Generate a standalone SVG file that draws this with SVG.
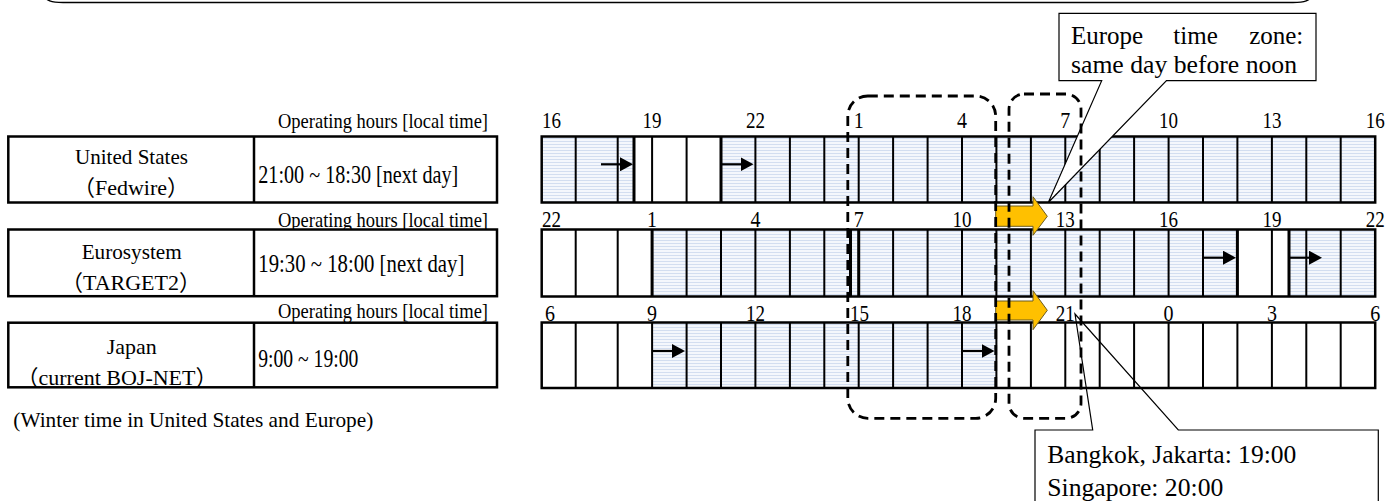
<svg xmlns="http://www.w3.org/2000/svg" width="1387" height="501" viewBox="0 0 1387 501">
<style>
text{font-family:"Liberation Serif","Noto Sans CJK JP",serif;fill:#000}
.hr{font-size:23px;text-anchor:middle}
.oh{font-size:21px;text-anchor:end}
.nm{font-size:22px;text-anchor:middle}
.tm{font-size:26px}
.co{font-size:25px}
.box{fill:#fff;stroke:#000;stroke-width:2.5}
.grid{fill:none;stroke:#000;stroke-width:2}
.thick{fill:none;stroke:#000;stroke-width:3}
.row{fill:none;stroke:#000;stroke-width:2.5}
.sh{fill:url(#hatch)}
.dash{fill:none;stroke:#000;stroke-width:2.8;stroke-dasharray:10 6}
.arr{stroke:#000;stroke-width:2.2;marker-end:url(#ah)}
.yel{fill:#FFC000;stroke:#6b5a1e;stroke-width:1}
.call{stroke:#000;stroke-width:1.2}
</style>
<defs>
<pattern id="hatch" width="6" height="3" patternUnits="userSpaceOnUse"><rect width="6" height="3" fill="#F4F7FC"/><rect width="6" height="1" fill="#D3DEF0"/></pattern>
<marker id="ah" markerUnits="userSpaceOnUse" markerWidth="13" markerHeight="14" viewBox="0 0 13 14" refX="7" refY="7" orient="auto"><path d="M0,0 L13,7 L0,14 Z" fill="#000"/></marker>
</defs>
<rect width="1387" height="501" fill="#fff"/>
<path d="M44,-6 C45,1 52,2.5 63,2.5 L1293,2.5 C1304,2.5 1311,1 1312,-6" fill="none" stroke="#000" stroke-width="1.5"/>

<g id="us-label">
<text class="oh" x="488" y="128.3" textLength="210" lengthAdjust="spacingAndGlyphs">Operating hours [local time]</text>
<rect class="box" x="8.3" y="136.5" width="488.7" height="66"/>
<line x1="254" y1="136.5" x2="254" y2="202.5" stroke="#000" stroke-width="2.5"/>
<text class="nm" x="131.5" y="164" textLength="113" lengthAdjust="spacingAndGlyphs">United States</text>
<text class="nm" x="131" y="195">（Fedwire）</text>
<text class="tm" x="258.3" y="183.3" textLength="200" lengthAdjust="spacingAndGlyphs">21:00 ~ 18:30 [next day]</text>
</g>

<g id="euro-label">
<text class="oh" x="488" y="226.5" textLength="210" lengthAdjust="spacingAndGlyphs">Operating hours [local time]</text>
<rect class="box" x="8.3" y="229.5" width="488.7" height="66.7"/>
<line x1="254" y1="229.5" x2="254" y2="296.2" stroke="#000" stroke-width="2.5"/>
<text class="nm" x="131.7" y="259" textLength="100" lengthAdjust="spacingAndGlyphs">Eurosystem</text>
<text class="nm" x="131" y="289.5">（TARGET2）</text>
<text class="tm" x="258.3" y="271.7" textLength="206" lengthAdjust="spacingAndGlyphs">19:30 ~ 18:00 [next day]</text>
</g>

<g id="japan-label">
<text class="oh" x="488" y="318.3" textLength="210" lengthAdjust="spacingAndGlyphs">Operating hours [local time]</text>
<rect class="box" x="8.3" y="322.7" width="488.7" height="64.6"/>
<line x1="254" y1="322.7" x2="254" y2="387.3" stroke="#000" stroke-width="2.5"/>
<text class="nm" x="131.7" y="354" textLength="50" lengthAdjust="spacingAndGlyphs">Japan</text>
<text class="nm" x="117" y="384.5">（current BOJ-NET）</text>
<text class="tm" x="258.3" y="366.7" textLength="100" lengthAdjust="spacingAndGlyphs">9:00 ~ 19:00</text>
</g>

<g id="note">
<text x="13.3" y="426.7" font-size="22" textLength="360" lengthAdjust="spacingAndGlyphs">(Winter time in United States and Europe)</text>
</g>

<g id="us-timeline">
<rect class="sh" x="541.7" y="136.5" width="92.3" height="66"/>
<rect class="sh" x="721" y="136.5" width="654.2" height="66"/>
<path class="grid" d="M575.7,136.5V202.5M617.7,136.5V202.5M652.1,136.5V202.5M686.6,136.5V202.5M755.4,136.5V202.5M789.9,136.5V202.5M824.3,136.5V202.5M858.7,136.5V202.5M893.1,136.5V202.5M927.6,136.5V202.5M962,136.5V202.5M996.4,136.5V202.5M1030.9,136.5V202.5M1065.3,136.5V202.5M1099.7,136.5V202.5M1134.1,136.5V202.5M1168.6,136.5V202.5M1203,136.5V202.5M1237.4,136.5V202.5M1271.9,136.5V202.5M1306.3,136.5V202.5M1340.7,136.5V202.5"/>
<path class="thick" d="M634,136.5V202.5M721,136.5V202.5"/>
<rect class="row" x="541.7" y="136.5" width="833.5" height="66"/>
<text class="hr" x="551.5" y="128" textLength="19" lengthAdjust="spacingAndGlyphs">16</text>
<text class="hr" x="652.1" y="128" textLength="19" lengthAdjust="spacingAndGlyphs">19</text>
<text class="hr" x="755.4" y="128" textLength="19" lengthAdjust="spacingAndGlyphs">22</text>
<text class="hr" x="858.7" y="128" textLength="10" lengthAdjust="spacingAndGlyphs">1</text>
<text class="hr" x="962" y="128" textLength="10" lengthAdjust="spacingAndGlyphs">4</text>
<text class="hr" x="1065.3" y="128" textLength="10" lengthAdjust="spacingAndGlyphs">7</text>
<text class="hr" x="1168.6" y="128" textLength="19" lengthAdjust="spacingAndGlyphs">10</text>
<text class="hr" x="1271.9" y="128" textLength="19" lengthAdjust="spacingAndGlyphs">13</text>
<text class="hr" x="1375.2" y="128" textLength="19" lengthAdjust="spacingAndGlyphs">16</text>
</g>

<g id="euro-timeline">
<rect class="sh" x="652.1" y="229.5" width="585.3" height="67"/>
<rect class="sh" x="1289" y="229.5" width="86.2" height="67"/>
<path class="grid" d="M575.7,229.5V296.5M617.7,229.5V296.5M686.6,229.5V296.5M721,229.5V296.5M755.4,229.5V296.5M789.9,229.5V296.5M824.3,229.5V296.5M893.1,229.5V296.5M927.6,229.5V296.5M962,229.5V296.5M996.4,229.5V296.5M1030.9,229.5V296.5M1065.3,229.5V296.5M1099.7,229.5V296.5M1134.1,229.5V296.5M1168.6,229.5V296.5M1203,229.5V296.5M1271.9,229.5V296.5M1306.3,229.5V296.5M1340.7,229.5V296.5"/>
<path class="thick" d="M652.1,229.5V296.5M850.5,229.5V296.5M858.7,229.5V296.5M1237.4,229.5V296.5M1289,229.5V296.5"/>
<rect class="row" x="541.7" y="229.5" width="833.5" height="67"/>
<text class="hr" x="551.5" y="226.5" textLength="19" lengthAdjust="spacingAndGlyphs">22</text>
<text class="hr" x="652.1" y="226.5" textLength="10" lengthAdjust="spacingAndGlyphs">1</text>
<text class="hr" x="755.4" y="226.5" textLength="10" lengthAdjust="spacingAndGlyphs">4</text>
<text class="hr" x="858.7" y="226.5" textLength="10" lengthAdjust="spacingAndGlyphs">7</text>
<text class="hr" x="962" y="226.5" textLength="19" lengthAdjust="spacingAndGlyphs">10</text>
<text class="hr" x="1065.3" y="226.5" textLength="19" lengthAdjust="spacingAndGlyphs">13</text>
<text class="hr" x="1168.6" y="226.5" textLength="19" lengthAdjust="spacingAndGlyphs">16</text>
<text class="hr" x="1271.9" y="226.5" textLength="19" lengthAdjust="spacingAndGlyphs">19</text>
<text class="hr" x="1375.2" y="226.5" textLength="19" lengthAdjust="spacingAndGlyphs">22</text>
</g>

<g id="japan-timeline">
<rect class="sh" x="652.1" y="322.5" width="344.3" height="65.5"/>
<path class="grid" d="M575.7,322.5V388M617.7,322.5V388M652.1,322.5V388M686.6,322.5V388M721,322.5V388M755.4,322.5V388M789.9,322.5V388M824.3,322.5V388M858.7,322.5V388M893.1,322.5V388M927.6,322.5V388M962,322.5V388M996.4,322.5V388M1030.9,322.5V388M1065.3,322.5V388M1099.7,322.5V388M1134.1,322.5V388M1168.6,322.5V388M1203,322.5V388M1237.4,322.5V388M1271.9,322.5V388M1306.3,322.5V388M1340.7,322.5V388"/>
<rect class="row" x="541.7" y="322.5" width="833.5" height="65.5"/>
<text class="hr" x="550" y="320.5" textLength="10" lengthAdjust="spacingAndGlyphs">6</text>
<text class="hr" x="652.1" y="320.5" textLength="10" lengthAdjust="spacingAndGlyphs">9</text>
<text class="hr" x="755.4" y="320.5" textLength="19" lengthAdjust="spacingAndGlyphs">12</text>
<text class="hr" x="859.5" y="320.5" textLength="19" lengthAdjust="spacingAndGlyphs">15</text>
<text class="hr" x="962" y="320.5" textLength="19" lengthAdjust="spacingAndGlyphs">18</text>
<text class="hr" x="1065.3" y="320.5" textLength="19" lengthAdjust="spacingAndGlyphs">21</text>
<text class="hr" x="1168.6" y="320.5" textLength="10" lengthAdjust="spacingAndGlyphs">0</text>
<text class="hr" x="1271.9" y="320.5" textLength="10" lengthAdjust="spacingAndGlyphs">3</text>
<text class="hr" x="1375.2" y="320.5" textLength="10" lengthAdjust="spacingAndGlyphs">6</text>
</g>

<g id="connectors">
<line class="arr" x1="601" y1="164.3" x2="627" y2="164.3"/>
<line class="arr" x1="721" y1="164.3" x2="747.5" y2="164.3"/>
<line class="arr" x1="1203" y1="257.7" x2="1230" y2="257.7"/>
<line class="arr" x1="1289" y1="257.7" x2="1316" y2="257.7"/>
<line class="arr" x1="652" y1="351" x2="679" y2="351"/>
<line class="arr" x1="962" y1="351" x2="988.5" y2="351"/>
</g>

<g id="bangkok-callout">
<rect x="1035" y="430" width="343.3" height="80" fill="#fff"/>
<path class="call" d="M1035,512 V430 H1092.7 L1075,314 L1178.3,430 H1378.3 V512" fill="none"/>
<text class="co" x="1047.3" y="462.7" textLength="249" lengthAdjust="spacingAndGlyphs">Bangkok, Jakarta: 19:00</text>
<text class="co" x="1047.3" y="496" textLength="176" lengthAdjust="spacingAndGlyphs">Singapore: 20:00</text>
</g>

<g id="europe-callout">
<path class="call" d="M1059,13.3 H1316 V80.7 H1166.5 L1048.3,202.5 L1101.7,80.7 H1059 Z" fill="#fff"/>
<text class="co" y="44.3"><tspan x="1071">Europe</tspan><tspan x="1173.3">time</tspan><tspan x="1303.3" text-anchor="end">zone:</tspan></text>
<text class="co" x="1071" y="72.7" textLength="226" lengthAdjust="spacingAndGlyphs">same day before noon</text>
</g>

<g id="yellow-arrows">
<path class="yel" d="M995.7,206 H1033 V196.7 L1047.3,216.3 L1033,235.3 V226.3 H995.7 Z"/>
<path class="yel" d="M995.7,301 H1033 V290.7 L1047.3,310.3 L1033,329.7 V320 H995.7 Z"/>
</g>

<g id="window-a">
<rect class="dash" x="847.8" y="96" width="147.9" height="322.3" rx="20"/>
</g>
<g id="window-b">
<rect class="dash" x="1009" y="94" width="72" height="324.3" rx="15"/>
</g>
</svg>
